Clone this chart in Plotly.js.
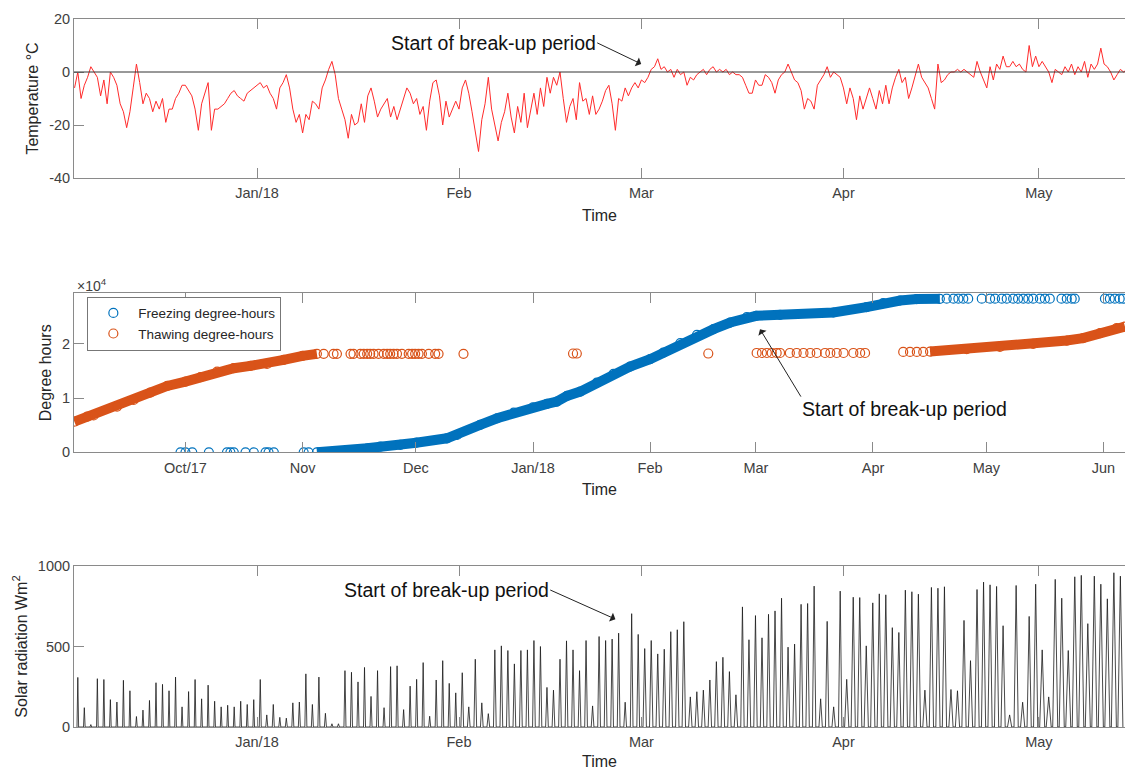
<!DOCTYPE html>
<html><head><meta charset="utf-8">
<script src="https://cdn.plot.ly/plotly-3.0.1.min.js"></script>
<style>html,body{margin:0;padding:0;background:#fff;overflow:hidden}#chart{width:1125px;height:770px}</style>
</head><body><div id="chart"></div>
<script>
// ---------- Temperature (°C), 12-hour samples from 2017-12-04 00:00 ----------
const tempStart = [2017, 11, 4];
const tempStepHours = 12;
const tempValues = [
 -6,0,-10,-5,-2,2,0,-2,-9,-3,
 -12,0,-2,-5,-12,-15,-21,-15,-6,3,
 -4,-12,-8,-10,-15,-11,-14,-10,-19,-14,
 -14,-10,-8,-5,-5,-7,-9,-14,-22,-12,
 -8,-4,-22,-14,-14,-13,-12,-10,-8,-7,
 -9,-10,-11,-8,-7,-6,-5,-4,-6,-5,
 -8,-10,-14,-6,-4,-1,-6,-14,-19,-16,
 -23,-16,-18,-11,-12,-14,-6,-3,1,4,
 -1,-10,-14,-18,-25,-16,-20,-19,-12,-19,
 -9,-6,-11,-17,-14,
 -12,-10,-17,-13,-18,-14,-10,-6,-8,-12,
 -10,-16,-13,-22,-11,-4,-3,-9,-20,-11,
 -17,-14,-11,-14,-6,-3,-8,-15,-22,-30,
 -18,-12,-2,-14,-20,-26,-19,-15,-8,-17,
 -23,-13,-19,-8,-21,-14,-8,-16,-6,-13,
 -2,-8,-2,-5,0,-10,-19,-13,-10,-18,
 -4,-11,-10,-16,-9,-16,-14,-11,-7,-5,
 -12,-22,-10,-11,-6,-9,-6,-4,-6,-3,
 -4,-2,1,2,5,1,2,0,1,-2,
 1,-1,0,-5,-2,-3,-1,0,1,-1,
 1,2,0,1,0,1,-1,0,-1,-1,
 -2,-5,-8,
 -8,-3,-5,-5,-1,-2,-4,-8,-3,-1,
 0,3,0,-3,-4,-7,-14,-10,-11,-14,
 -5,-3,-1,2,-2,0,-1,-2,-6,-12,
 -6,-10,-18,-9,-14,-10,-6,-10,-14,-7,
 -12,-5,-12,-6,-2,1,-4,-2,-10,-6,
 -1,3,-2,-4,-6,-10,-14,3,-4,-3,
 -1,0,0,1,0,1,0,-1,-2,4,
 0,-3,-6,2,-3,3,1,6,2,2,
 4,2,3,1,0,10,2,6,2,4,
 2,0,-4,1,0,-1,2,0,3,-1,
 2,0,4,-2,3,1,3,9,3,2,
 0,-3,-1,1,0,1
];

// ---------- Degree hours (days counted from 2017-09-01) ----------
const dhBase = [2017, 8, 1];
const freezeBandDays = [64.8,69.2,78.1,81.6,86.9,91.1,99.2,101.9,108.0,112.5,116.9,122.0,125.7,128.3,131.0,134.5,138.9,143.3,147.7,153.0,156.5,161.0,165.4,169.8,174.2,178.6,181.1,187.4,201.5,210.3,214.7,219.2,223.6,229.7];
const freezeBandValues = [0,110,740,1030,1350,1770,2580,3190,5040,6270,7310,8300,8910,9340,10390,11180,12840,14450,15790,17160,18380,20110,21640,22690,23910,24910,25150,25330,25760,26750,27490,27970,28230,28280];
const freezeSparseDays = [28.7,30.0,31.8,36.2,41.0,41.9,42.8,45.9,48.1,51.2,52.0,53.4,61.3,62.6,
 231.5,233.3,234.6,235.9,237.2,240.8,243.0,244.3,246.1,247.4,249.1,250.4,251.8,253.1,254.4,256.2,257.5,258.8,261.9,263.3,264.6,265.4,273.4,274.7,276.0,277.3,278.2];
const freezeSparseValues = [0,0,0,0,0,0,0,0,0,0,0,0,0,0,
 28300,28300,28300,28300,28300,28300,28300,28300,28300,28300,28300,28300,28300,28300,28300,28300,28300,28300,28300,28300,28300,28300,28300,28300,28300,28300,28300];
const thawBandADays = [0.6,4.0,5.7,11.9,16.3,20.7,25.2,30.0,34.0,38.4,42.8,47.2,51.6,56.0,61.0,64.8];
const thawBandAValues = [5650,6570,6800,8420,9650,11000,12230,13030,13840,14880,15500,15920,16290,17030,17770,18140];
const thawBandBDays = [227.1,236.8,245.6,254.4,263.3,267.6,272.1,276.5,278.7];
const thawBandBValues = [18560,19000,19430,19980,20590,21030,21950,22870,23150];
const thawSparseDays = [66.6,69.2,70.1,73.7,74.5,76.3,77.2,78.1,78.9,79.8,81.1,82.5,83.4,84.2,85.1,86.0,87.3,89.1,90.0,90.8,91.7,92.6,94.4,96.1,97.0,103.6,
 132.6,133.6,168.4,
 181.2,182.6,183.9,185.2,186.5,187.4,190.0,191.8,193.6,195.4,197.1,199.3,200.7,202.4,204.2,206.8,208.6,209.9,220.0,221.8,223.6,225.3];
const thawSparseValues = [18150,18150,18150,18150,18150,18150,18150,18150,18150,18150,18150,18150,18150,18150,18150,18150,18150,18150,18150,18150,18150,18150,18150,18150,18150,18150,
 18200,18200,18200,
 18300,18300,18300,18300,18300,18300,18300,18300,18300,18300,18300,18300,18300,18300,18300,18300,18300,18300,18500,18500,18500,18500];

// ---------- Solar radiation: daily noon peaks (W/m2) from 2017-12-04 ----------
const solarStart = [2017, 11, 4];
const solarPeaks = [
 308,120,15,300,295,170,155,290,225,65,
 105,165,275,265,225,310,125,220,295,175,
 260,160,125,135,125,160,140,170,295,75,
 140,60,55,150,155,330,140,310,85,20,
 20,350,340,280,370,190,350,120,375,380,
 108,254,296,400,67,292,412,271,212,337,
 125,421,150,83,479,504,475,392,475,479,
 537,500,246,229,421,535,479,350,537,131,
 562,537,546,583,154,704,575,487,537,454,
 483,592,604,654,187,219,229,292,406,433,
 344,200,746,542,692,554,700,721,800,496,
 515,762,767,875,175,656,125,844,296,806,
 804,504,771,827,821,617,587,850,840,825,
 229,867,862,871,233,225,662,412,854,900,
 883,873,629,75,879,154,687,887,479,187,
 917,800,475,933,942,642,937,887,796,958,937
];
// daylight length (hours) per calendar month index, used for the width of each daily pulse
const daylightHoursByMonth = {11: 6, 0: 7.5, 1: 10, 2: 12.5, 3: 15.5, 4: 18.5};

// ---------- helpers ----------
const H = 3600e3, D = 864e5;
function fmt(ms){ return new Date(ms).toISOString().slice(0,19).replace('T',' '); }
function ymd(a){ return Date.UTC(a[0], a[1], a[2]); }

const tempX = tempValues.map((v,i)=>fmt(ymd(tempStart) + i*tempStepHours*H));
const dhX = days => days.map(d=>fmt(ymd(dhBase) + d*D));

const solarX = [], solarY = [];
solarPeaks.forEach((p,i)=>{
  const noon = ymd(solarStart) + i*D + 12*H;
  const half = daylightHoursByMonth[new Date(noon).getUTCMonth()]/2*H;
  solarX.push(fmt(noon-half), fmt(noon), fmt(noon+half));
  solarY.push(0, p, 0);
});

const BLUE = '#0072BD', ORANGE = '#D95319';
const FONT = 'Liberation Sans, Arial, Helvetica, sans-serif';
const AX = '#8a8a8a', TK = '#404040', TT = '#262626';

const traces = [
  {x: tempX, y: tempValues, xaxis:'x', yaxis:'y', type:'scatter', mode:'lines',
   line:{color:'#ff2b2b', width:1}, showlegend:false, hoverinfo:'skip'},
  {x: dhX(freezeBandDays), y: freezeBandValues, xaxis:'x2', yaxis:'y2', type:'scatter', mode:'lines+markers',
   line:{color:BLUE, width:10}, marker:{symbol:'circle-open', size:9, color:BLUE, line:{width:1.2}}, showlegend:false},
  {x: dhX(thawBandADays), y: thawBandAValues, xaxis:'x2', yaxis:'y2', type:'scatter', mode:'lines+markers',
   line:{color:ORANGE, width:10}, marker:{symbol:'circle-open', size:9, color:ORANGE, line:{width:1.2}}, showlegend:false},
  {x: dhX(thawBandBDays), y: thawBandBValues, xaxis:'x2', yaxis:'y2', type:'scatter', mode:'lines+markers',
   line:{color:ORANGE, width:10}, marker:{symbol:'circle-open', size:9, color:ORANGE, line:{width:1.2}}, showlegend:false},
  {x: dhX(freezeSparseDays), y: freezeSparseValues, xaxis:'x2', yaxis:'y2', type:'scatter', mode:'markers',
   name:'Freezing degree-hours', marker:{symbol:'circle-open', size:9, color:BLUE, line:{width:1.2}}},
  {x: dhX(thawSparseDays), y: thawSparseValues, xaxis:'x2', yaxis:'y2', type:'scatter', mode:'markers',
   name:'Thawing degree-hours', marker:{symbol:'circle-open', size:9, color:ORANGE, line:{width:1.2}}},
  {x: solarX, y: solarY, xaxis:'x3', yaxis:'y3', type:'scatter', mode:'lines',
   line:{color:'#1a1a1a', width:0.8}, showlegend:false, hoverinfo:'skip'}
];

function xax(range, vals, text, anchor){
  return {type:'date', range:range, tickvals:vals, ticktext:text, anchor:anchor, domain:[0,1],
    showline:true, linecolor:AX, linewidth:1, mirror:'ticks', ticks:'inside', ticklen:10, tickcolor:AX,
    showgrid:false, zeroline:false, tickfont:{size:14.5, color:TK, family:FONT}, ticklabelstandoff:2,
    title:{text:'Time', font:{size:16, color:TT, family:FONT}, standoff:9}, automargin:false};
}
function yax(range, vals, text, domain, anchor, title){
  return {range:range, tickvals:vals, ticktext:text, domain:domain, anchor:anchor,
    showline:true, linecolor:AX, linewidth:1, mirror:false, ticks:'inside', ticklen:10, tickcolor:AX,
    showgrid:false, zeroline:false, tickfont:{size:14.5, color:TK, family:FONT},
    title:{text:title, font:{size:16, color:TT, family:FONT}, standoff:6}, automargin:false};
}

const topRange = ['2017-12-03 22:00','2018-05-14 05:00'];
const midRange = ['2017-09-01 12:00','2018-06-06 17:00'];
const topTicks = ['2018-01-01','2018-02-01','2018-03-01','2018-04-01','2018-05-01'];
const topText = ['Jan/18','Feb','Mar','Apr','May'];
const midTicks = ['2017-10-01','2017-11-01','2017-12-01','2018-01-01','2018-02-01','2018-03-01','2018-04-01','2018-05-01','2018-06-01'];
const midText = ['Oct/17','Nov','Dec','Jan/18','Feb','Mar','Apr','May','Jun'];

const annFont = {size:19.5, color:'#111', family:FONT};
const arrow = {showarrow:true, arrowhead:1, arrowsize:1.6, arrowwidth:1, arrowcolor:'#222', borderpad:0};
const label = 'Start of break-up period';

const layout = {
  width:1125, height:770, margin:{l:74, r:0, t:19, b:43},
  paper_bgcolor:'#fff', plot_bgcolor:'#fff', font:{family:FONT},
  xaxis: xax(topRange, topTicks, topText, 'y'),
  yaxis: yax([-40,20], [-40,-20,0,20], ['-40','-20','0','20'], [0.7754,1], 'x', 'Temperature °C'),
  xaxis2: xax(midRange, midTicks, midText, 'y2'),
  yaxis2: yax([0,29300], [0,10000,20000], ['0','1','2'], [0.388,0.6126], 'x2', 'Degree hours'),
  xaxis3: xax(topRange, topTicks, topText, 'y3'),
  yaxis3: yax([0,1000], [0,500,1000], ['0','500','1000'], [0,0.2274], 'x3', 'Solar radiation Wm<sup>2</sup>'),
  showlegend:true,
  legend:{x:0.0127, y:0.6078, xanchor:'left', yanchor:'top', bgcolor:'#fff', bordercolor:'#777', borderwidth:1,
    font:{size:13.5, color:TT, family:FONT}, itemwidth:40, tracegroupgap:0},
  shapes:[{type:'line', xref:'x domain', yref:'y', x0:0, x1:1, y0:0, y1:0, line:{color:'#333', width:1}, layer:'above'}],
  annotations:[
    Object.assign({xref:'x', yref:'y', axref:'x', ayref:'y', x:'2018-02-28 23:00', y:3.05, ax:'2018-02-22 05:00', ay:11.0,
      text:label, font:annFont, xanchor:'right', yanchor:'middle'}, arrow),
    Object.assign({xref:'x2', yref:'y2', axref:'x2', ayref:'y2', x:'2018-03-02 02:00', y:22690, ax:'2018-03-12 22:00', ay:10260,
      text:label, font:annFont, xanchor:'left', yanchor:'top'}, arrow),
    Object.assign({xref:'x3', yref:'y3', axref:'x3', ayref:'y3', x:'2018-02-25 00:00', y:670, ax:'2018-02-15 00:00', ay:851,
      text:label, font:annFont, xanchor:'right', yanchor:'middle'}, arrow),
    {xref:'paper', yref:'paper', x:0.001, y:0.6243, xanchor:'left', yanchor:'middle', text:'×10<sup>4</sup>', showarrow:false,
     font:{size:14, color:TK, family:FONT}}
  ]
};

Plotly.newPlot('chart', traces, layout, {displayModeBar:false, staticPlot:true});
</script>
</body></html>
